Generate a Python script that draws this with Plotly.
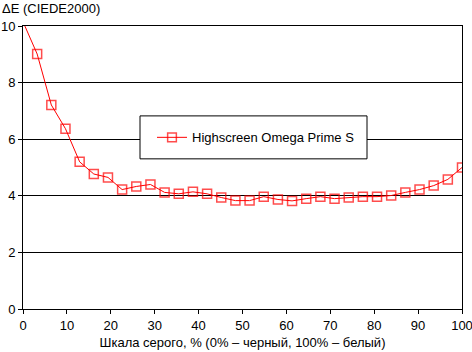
import plotly.graph_objects as go

x_vals = [i * 100 / 31 for i in range(32)]
y_vals = [10.15, 9.01, 7.21, 6.37, 5.2, 4.77, 4.65, 4.22, 4.33, 4.40, 4.12, 4.07,
          4.14, 4.07, 3.94, 3.83, 3.83, 3.97, 3.87, 3.82, 3.90, 3.97, 3.90, 3.94,
          3.97, 3.97, 4.01, 4.12, 4.22, 4.36, 4.58, 5.0]
series_name = "Highscreen Omega Prime S"
marker_sizes = [0] + [9] * 31

fig = go.Figure()
fig.add_trace(go.Scatter(
    x=x_vals, y=y_vals, mode="lines+markers", name=series_name,
    line=dict(color="#ff0000", width=1),
    marker=dict(symbol="square-open", size=marker_sizes, color="#ff0000", line=dict(width=1.5)),
))

fnt = dict(family="Liberation Sans, Arial, sans-serif", size=13, color="#000000")
fig.update_layout(
    width=472, height=352,
    margin=dict(l=23, r=10, t=26, b=43),
    paper_bgcolor="white", plot_bgcolor="white",
    font=fnt,
    showlegend=True,
    legend=dict(x=(152 - 23) / 439, y=(309.3 - 137.5) / 283.3, xanchor="left", yanchor="middle",
                borderwidth=0, bgcolor="rgba(0,0,0,0)", font=fnt),
    shapes=[dict(type="rect", xref="paper", yref="paper",
                 x0=(140 - 23) / 439, x1=(367 - 23) / 439,
                 y0=(309.3 - 159) / 283.3, y1=(309.3 - 116) / 283.3,
                 line=dict(color="#000000", width=1), fillcolor="white", layer="above")],
    xaxis=dict(range=[0, 100], tickvals=list(range(0, 101, 10)), showgrid=False,
               showline=True, linecolor="#000000", linewidth=1, mirror=True, automargin=False,
               ticks="outside", ticklen=4, tickcolor="#000000", zeroline=False,
               ticklabeloverflow="allow",
               title=dict(text="Шкала серого, % (0% – черный, 100% – белый)", font=fnt, standoff=6)),
    yaxis=dict(range=[0, 10], tickvals=list(range(0, 11, 2)), showgrid=True,
               gridcolor="#000000", gridwidth=1, automargin=False,
               showline=True, linecolor="#000000", linewidth=1, mirror=True,
               ticks="outside", ticklen=4, tickcolor="#000000", zeroline=False,
               ticklabeloverflow="allow"),
    annotations=[dict(text="ΔE (CIEDE2000)", xref="paper", yref="paper", x=0, y=1,
                      xanchor="left", yanchor="bottom", showarrow=False, font=fnt,
                      xshift=-23, yshift=8)],
)
fig.write_html("out.html")
